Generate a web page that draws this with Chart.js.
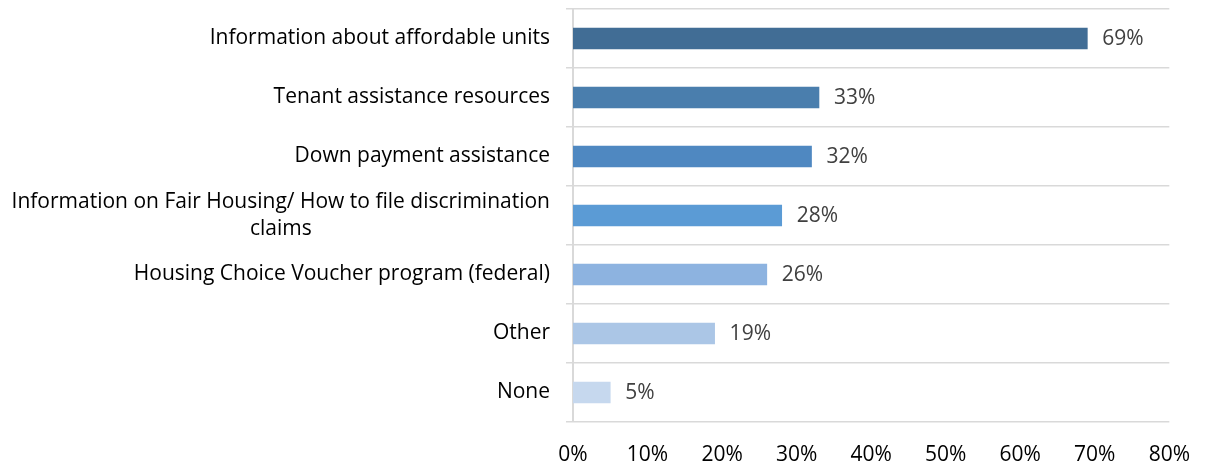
<!DOCTYPE html>
<html>
<head>
<meta charset="utf-8">
<script src="https://cdn.jsdelivr.net/npm/chart.js@4.4.1/dist/chart.umd.min.js"></script>
<style>
  html, body { margin: 0; padding: 0; background: #fff; }
  #wrap { width: 1210px; height: 466px; }
</style>
</head>
<body>
<div id="wrap"><canvas id="chart" width="1210" height="466"></canvas></div>
<script>
// ---- data ----
const categories = [
    ['Information about affordable units'],
    ['Tenant assistance resources'],
    ['Down payment assistance'],
    ['Information on Fair Housing/ How to file discrimination', 'claims'],
    ['Housing Choice Voucher program (federal)'],
    ['Other'],
    ['None']
];
const shares = [69, 33, 32, 28, 26, 19, 5];
const barColors = ['#416D95', '#4A7EAD', '#4F88C1', '#5B9BD5', '#8DB3E0', '#ABC6E6', '#C6D8EE'];
const xTicks = [0, 10, 20, 30, 40, 50, 60, 70, 80];

const FONT = '"Open Sans", sans-serif';
const FSIZE = 21;

// value labels to the right of each bar
const valueLabels = {
    id: 'valueLabels',
    afterDatasetsDraw(chart) {
        const ctx = chart.ctx;
        const meta = chart.getDatasetMeta(0);
        ctx.save();
        ctx.font = FSIZE + 'px ' + FONT;
        ctx.fillStyle = '#404040';
        ctx.textAlign = 'left';
        ctx.textBaseline = 'middle';
        meta.data.forEach((bar, i) => {
            ctx.fillText(shares[i] + '%', bar.x + 15, bar.y + 1);
        });
        ctx.restore();
    }
};

// category labels: right aligned, wrapped lines centred on each other
const categoryLabels = {
    id: 'categoryLabels',
    afterDraw(chart) {
        const ctx = chart.ctx;
        const y = chart.scales.y;
        const right = chart.chartArea.left - 23;
        const lineH = 27;
        ctx.save();
        ctx.font = FSIZE + 'px ' + FONT;
        ctx.fillStyle = '#000';
        ctx.textBaseline = 'middle';
        ctx.textAlign = 'center';
        categories.forEach((lines, i) => {
            const cy = y.getPixelForValue(i);
            const w = Math.max(...lines.map(l => ctx.measureText(l).width));
            const cx = right - w / 2;
            const y0 = cy - (lines.length - 1) * lineH / 2;
            lines.forEach((l, k) => ctx.fillText(l, cx, y0 + k * lineH));
        });
        ctx.restore();
    }
};

new Chart(document.getElementById('chart'), {
    type: 'bar',
    data: {
        labels: categories.map(c => c.join(' ')),
        datasets: [{
            data: shares,
            backgroundColor: barColors,
            borderWidth: 0,
            barThickness: 21
        }]
    },
    options: {
        indexAxis: 'y',
        responsive: false,
        animation: false,
        layout: { autoPadding: false, padding: { top: 9, right: 30, bottom: 0, left: 0 } },
        plugins: {
            legend: { display: false },
            tooltip: { enabled: false }
        },
        scales: {
            x: {
                min: 0,
                max: 80,
                afterBuildTicks: (s) => { s.ticks = xTicks.map(v => ({ value: v })); },
                afterFit: (s) => { s.height = 44; },
                grid: { display: false, drawTicks: false },
                border: { display: false },
                ticks: {
                    padding: 20,
                    color: '#000',
                    font: { family: FONT, size: FSIZE },
                    callback: (v) => v + '%'
                }
            },
            y: {
                afterFit: (s) => { s.width = 573; },
                grid: { color: '#D9D9D9', lineWidth: 1.5, tickLength: 7, offset: true },
                border: { color: '#D9D9D9', width: 2 },
                ticks: { display: false }
            }
        }
    },
    plugins: [valueLabels, categoryLabels]
});
</script>
</body>
</html>
